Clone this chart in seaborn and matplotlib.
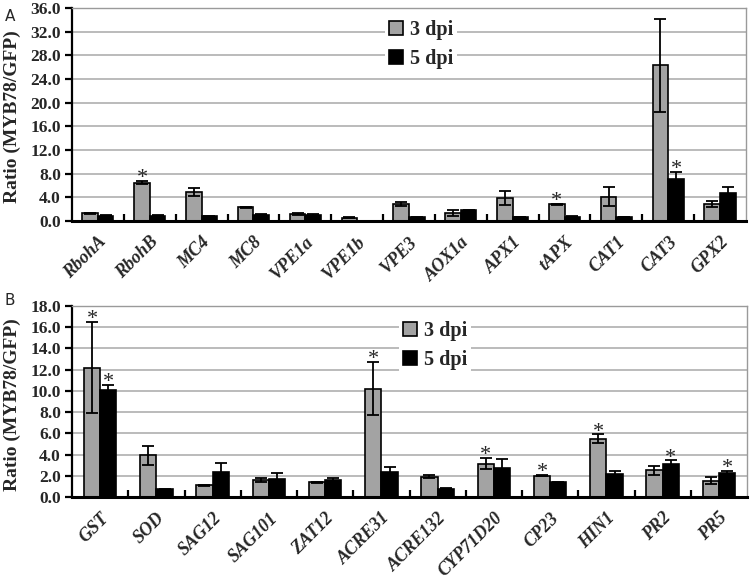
import pandas as pd
import seaborn as sns
import matplotlib.pyplot as plt
from matplotlib.ticker import MultipleLocator, FormatStrFormatter

# panel A
genes_a = ["RbohA", "RbohB", "MC4", "MC8", "VPE1a", "VPE1b", "VPE3",
           "AOX1a", "APX1", "tAPX", "CAT1", "CAT3", "GPX2"]
a_3dpi = [1.3, 6.5, 4.9, 2.3, 1.15, 0.55, 2.9, 1.3, 3.9, 2.8, 4.1, 26.3, 2.9]
a_3dpi_err = [0.1, 0.2, 0.6, 0.1, 0.15, 0.1, 0.3, 0.5, 1.2, 0.15, 1.6, 7.9, 0.5]
a_5dpi = [0.9, 0.9, 0.8, 1.05, 1.0, 0.05, 0.6, 1.8, 0.7, 0.7, 0.7, 7.05, 4.7]
a_5dpi_err = [0.05, 0.05, 0.1, 0.1, 0.1, 0.02, 0.05, 0.1, 0.05, 0.1, 0.05, 1.3, 1.0]
a_sig_3dpi = ["RbohB", "tAPX"]
a_sig_5dpi = ["CAT3"]

# panel B
genes_b = ["GST", "SOD", "SAG12", "SAG101", "ZAT12", "ACRE31", "ACRE132",
           "CYP71D20", "CP23", "HIN1", "PR2", "PR5"]
b_3dpi = [12.2, 3.95, 1.1, 1.6, 1.38, 10.2, 1.9, 3.15, 2.0, 5.5, 2.5, 1.55]
b_3dpi_err = [4.3, 0.9, 0.05, 0.15, 0.08, 2.5, 0.15, 0.5, 0.05, 0.4, 0.45, 0.3]
b_5dpi = [10.1, 0.72, 2.4, 1.73, 1.6, 2.4, 0.8, 2.7, 1.4, 2.15, 3.15, 2.25]
b_5dpi_err = [0.5, 0.03, 0.8, 0.5, 0.15, 0.4, 0.05, 0.9, 0.05, 0.3, 0.3, 0.2]
b_sig_3dpi = ["GST", "ACRE31", "CYP71D20", "CP23", "HIN1"]
b_sig_5dpi = ["GST", "PR2", "PR5"]

series = ["3 dpi", "5 dpi"]

sns.set_theme(style="white")
plt.rcParams["font.family"] = ["Liberation Serif", "DejaVu Serif"]

SERIF_B = {"family": "Liberation Serif", "weight": "bold"}


def draw_panel(ax, genes, v3, e3, v5, e5, sig3, sig5, ymax, step, width, leg_x, leg_y):
    n = len(genes)
    df = pd.DataFrame({
        "gene": genes * 2,
        "dpi": [series[0]] * n + [series[1]] * n,
        "ratio": v3 + v5,
    })
    sns.barplot(data=df, x="gene", y="ratio", hue="dpi", palette=["#a3a3a3", "black"],
                edgecolor="black", linewidth=1.2, width=width, errorbar=None,
                saturation=1, ax=ax)
    bars = list(ax.containers)
    for cont, errs, sig in zip(bars, [e3, e5], [sig3, sig5]):
        xs = [b.get_x() + b.get_width() / 2 for b in cont]
        ys = [b.get_height() for b in cont]
        ax.errorbar(xs, ys, yerr=errs, fmt="none", ecolor="black",
                    elinewidth=1.3, capsize=4, capthick=1.3, zorder=4)
        for g, x, y, e in zip(genes, xs, ys, errs):
            if g in sig:
                ax.annotate("*", (x, y + e), xytext=(0, -1.5), textcoords="offset points",
                            ha="center", va="baseline", fontsize=16, zorder=5)

    ax.set_xlim(-0.5, n - 0.5)
    ax.set_ylim(0, ymax)
    ax.yaxis.set_major_locator(MultipleLocator(step))
    ax.yaxis.set_major_formatter(FormatStrFormatter("%.1f"))
    ax.yaxis.grid(True, color="#b5b5b5", linewidth=1.3)
    ax.set_axisbelow(True)
    for s in ["top", "right"]:
        ax.spines[s].set_color("#9a9a9a")
        ax.spines[s].set_linewidth(1.0)
    ax.spines["left"].set_color("black")
    ax.spines["left"].set_linewidth(1.6)
    ax.spines["bottom"].set_color("black")
    ax.spines["bottom"].set_linewidth(2.2)

    ax.tick_params(axis="y", direction="out", length=5, width=1.6, color="black",
                   left=True, pad=3, labelsize=12.5)
    for lab in ax.get_yticklabels():
        lab.set_fontweight("bold")
    ax.set_xticks(range(n))
    ax.set_xticklabels(genes, rotation=45, ha="right", va="top", rotation_mode="anchor",
                       fontsize=13, fontweight="bold", fontstyle="italic")
    ax.tick_params(axis="x", which="major", length=0, pad=9)
    ax.set_xticks([i + 0.5 for i in range(n - 1)], minor=True)
    ax.tick_params(axis="x", which="minor", direction="in", length=5, width=1.6,
                   color="black", bottom=True)
    ax.set_xlabel("")
    ax.set_ylabel("")

    handles, labels = ax.get_legend_handles_labels()
    ax.legend(handles, labels, loc="upper left", bbox_to_anchor=(leg_x, leg_y),
              frameon=True, facecolor="white", edgecolor="none", framealpha=1,
              prop={**SERIF_B, "size": 14.5}, handlelength=0.7, handleheight=0.7,
              handletextpad=0.3, labelspacing=0.45, borderpad=0.2)


fig = plt.figure(figsize=(7.51, 5.82), dpi=100)
ax_a = fig.add_axes([0.0959, 0.6203, 0.8974, 0.3660])
ax_b = fig.add_axes([0.0959, 0.1460, 0.8988, 0.3282])

draw_panel(ax_a, genes_a, a_3dpi, a_3dpi_err, a_5dpi, a_5dpi_err,
           a_sig_3dpi, a_sig_5dpi, 36, 4, 0.6, 0.45, 1.01)
draw_panel(ax_b, genes_b, b_3dpi, b_3dpi_err, b_5dpi, b_5dpi_err,
           b_sig_3dpi, b_sig_5dpi, 18, 2, 0.58, 0.47, 0.995)

fig.text(0.017, 0.80, "Ratio (MYB78/GFP)", rotation=90, ha="center", va="center",
         fontsize=14, fontweight="bold")
fig.text(0.017, 0.305, "Ratio (MYB78/GFP)", rotation=90, ha="center", va="center",
         fontsize=14, fontweight="bold")
fig.text(0.006, 0.985, "A", family="DejaVu Sans", fontsize=11, va="top")
fig.text(0.006, 0.497, "B", family="DejaVu Sans", fontsize=11, va="top")

fig.savefig("out.png", dpi=100)
